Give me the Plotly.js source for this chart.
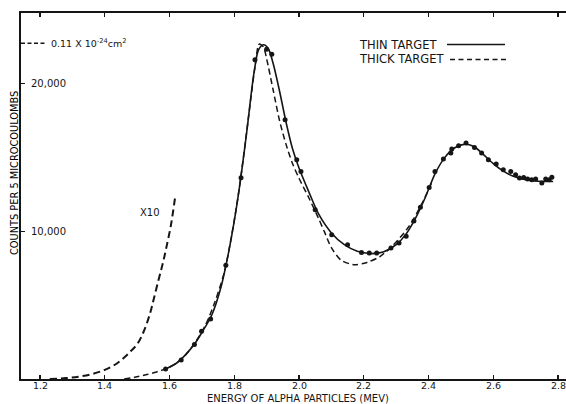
<!DOCTYPE html>
<html>
<head>
<meta charset="utf-8">
<script src="https://cdn.plot.ly/plotly-3.0.1.min.js"></script>
<style>
html,body{margin:0;padding:0;background:#fff;}
#chart{width:566px;height:404px;}
</style>
</head>
<body>
<div id="chart"></div>
<script>
// ---- Data ----
// Thin target measured points: energy (MeV), counts per 5 microcoulombs
var thinPointsE = [1.588,1.636,1.677,1.699,1.727,1.774,1.821,1.864,1.900,1.916,1.957,1.993,2.006,2.050,2.101,2.150,2.193,2.217,2.240,2.284,2.309,2.331,2.355,2.375,2.402,2.420,2.446,2.469,2.472,2.493,2.516,2.542,2.564,2.585,2.609,2.631,2.654,2.669,2.681,2.694,2.706,2.719,2.731,2.750,2.762,2.773,2.781];
var thinPointsC = [684,1290,2330,3230,4070,7700,13640,21625,22350,22010,17560,14850,14060,11470,9780,9100,8580,8535,8535,8875,9213,9665,10700,11640,12980,14060,14900,15308,15579,15802,15985,15688,15308,14855,14563,14177,14062,13839,13616,13656,13548,13500,13548,13277,13548,13500,13677];

// Thin target fitted curve (solid)
var thinCurveE = [1.588,1.62,1.65,1.68,1.70,1.73,1.76,1.78,1.80,1.82,1.84,1.86,1.875,1.89,1.905,1.92,1.94,1.96,1.98,2.00,2.03,2.06,2.10,2.14,2.18,2.22,2.26,2.30,2.33,2.36,2.39,2.42,2.45,2.48,2.51,2.54,2.57,2.60,2.63,2.66,2.70,2.74,2.785];
var thinCurveC = [684,1050,1650,2450,3150,4300,6300,8300,10700,13600,17000,20600,22300,22650,22400,21400,19500,17400,15600,14300,12700,11200,9900,9100,8650,8500,8600,9100,9800,10900,12300,13900,15000,15650,15900,15750,15200,14600,14100,13750,13500,13400,13380];

// Thick target curve (dashed)
var thickCurveE = [1.46,1.50,1.53,1.56,1.59,1.62,1.65,1.68,1.71,1.74,1.77,1.79,1.81,1.83,1.85,1.865,1.877,1.89,1.90,1.92,1.94,1.96,1.98,2.00,2.03,2.06,2.08,2.10,2.13,2.17,2.21,2.25,2.29,2.34,2.38,2.41];
var thickCurveC = [0,150,300,480,700,1050,1650,2500,3600,5200,7300,9500,12100,15300,18800,21300,22690,22500,21700,19600,17500,15900,14600,13600,12300,10900,9900,8900,8050,7745,7900,8300,9050,10350,11900,13300];

// Thick target low-energy tail, magnified x10 (dashed)
var x10CurveE = [1.23,1.28,1.32,1.36,1.40,1.43,1.46,1.48,1.50,1.52,1.54,1.55,1.565,1.58,1.591,1.605,1.617];
var x10CurveC = [0,60,160,330,620,950,1450,1880,2350,3200,4450,5300,6615,7900,8985,10500,12260];

// Axis ticks
var xTickVals = [1.2,1.4,1.6,1.8,2.0,2.2,2.4,2.6,2.8];
var xTickText = ['1.2','1.4','1.6','1.8','2.0','2.2','2.4','2.6','2.8'];
var yTickVals = [10000,20000];
var yTickText = ['10,000','20,000'];
var crossSectionLevel = [22750]; // 0.11 x 10^-24 cm^2 marker

// ---- Layout helpers (pixel -> paper) ----
var L = 21, R = 0, T = 13, B = 25, W = 566, H = 404;
var pw = W - L - R, ph = H - T - B;
function px(x){ return (x - L) / pw; }
function py(y){ return (H - B - y) / ph; }

var ink = '#151515';
var font = 'DejaVu Sans, Liberation Sans, sans-serif';

var traces = [
  {x: x10CurveE, y: x10CurveC, type:'scatter', mode:'lines', line:{color:ink, width:2, dash:'7px,4px', shape:'spline', smoothing:1}, hoverinfo:'skip'},
  {x: thickCurveE, y: thickCurveC, type:'scatter', mode:'lines', line:{color:ink, width:1.5, dash:'6px,3.5px', shape:'spline', smoothing:0.8}, hoverinfo:'skip'},
  {x: thinCurveE, y: thinCurveC, type:'scatter', mode:'lines', line:{color:ink, width:1.6, shape:'spline', smoothing:0.8}, hoverinfo:'skip'},
  {x: thinPointsE, y: thinPointsC, type:'scatter', mode:'markers', marker:{color:ink, size:5}, hoverinfo:'skip'}
];

var annotations = [
  {text:'COUNTS PER 5 MICROCOULOMBS', textangle:-90, xref:'paper', yref:'paper', x:px(14), y:py(173), xanchor:'center', yanchor:'middle', showarrow:false, font:{family:font, size:9.8, color:'#000'}},
  {text:'ENERGY OF ALPHA PARTICLES (MEV)', xref:'paper', yref:'paper', x:px(298), y:py(398), xanchor:'center', yanchor:'middle', showarrow:false, borderpad:0, font:{family:font, size:10, color:ink}},
  {text:'0.11 X 10<sup>-24</sup>cm<sup>2</sup>', xref:'paper', yref:'y', x:px(49), y:crossSectionLevel[0], xanchor:'left', yanchor:'middle', showarrow:false, font:{family:font, size:9.5, color:ink}},
  {text:'X10', xref:'paper', yref:'paper', x:px(150), y:py(212), xanchor:'center', yanchor:'middle', showarrow:false, font:{family:font, size:10, color:ink}},
  {text:'THIN TARGET', xref:'paper', yref:'paper', x:px(357), y:py(45), xanchor:'left', yanchor:'middle', showarrow:false, font:{family:font, size:11.5, color:ink}},
  {text:'THICK TARGET', xref:'paper', yref:'paper', x:px(357), y:py(59.5), xanchor:'left', yanchor:'middle', showarrow:false, font:{family:font, size:11.5, color:ink}}
];
// x tick labels
for (var i = 0; i < xTickVals.length; i++) {
  annotations.push({text:xTickText[i], xref:'x', yref:'paper', x:xTickVals[i], y:py(386), xanchor:'center', yanchor:'middle', showarrow:false, borderpad:0, font:{family:font, size:9.5, color:ink}});
}
// y tick labels (drawn inside the plot, right of the axis)
for (var j = 0; j < yTickVals.length; j++) {
  annotations.push({text:yTickText[j], xref:'paper', yref:'y', x:px(28.5), y:yTickVals[j], xanchor:'left', yanchor:'middle', showarrow:false, font:{family:font, size:10, color:ink}});
}

var layout = {
  width: W, height: H,
  margin: {l:L, r:R, t:T, b:B, pad:0},
  paper_bgcolor:'#ffffff', plot_bgcolor:'#ffffff',
  showlegend:false,
  font:{family:font, color:ink, size:10},
  xaxis:{
    range:[1.1413, 2.8247], tickmode:'array', tickvals:xTickVals, ticktext:xTickText,
    ticks:'inside', ticklen:4, tickwidth:1.3, tickcolor:ink,
    showticklabels:false,
    showline:true, linecolor:ink, linewidth:2, mirror:'ticks',
    showgrid:false, zeroline:false
  },
  yaxis:{
    range:[0, 24800], tickmode:'array', tickvals:yTickVals, ticktext:yTickText,
    ticks:'inside', ticklen:4, tickwidth:1.3, tickcolor:ink,
    showticklabels:false,
    showline:true, linecolor:ink, linewidth:2, mirror:false,
    showgrid:false, zeroline:false
  },
  annotations: annotations,
  shapes:[
    {type:'line', xref:'paper', yref:'y', x0:0, x1:px(47), y0:crossSectionLevel[0], y1:crossSectionLevel[0], line:{color:ink, width:1.3, dash:'4px,2.5px'}},
    {type:'line', xref:'paper', yref:'paper', x0:px(447), x1:px(505), y0:py(44.5), y1:py(44.5), line:{color:ink, width:1.3}},
    {type:'line', xref:'paper', yref:'paper', x0:px(450), x1:px(509), y0:py(59.5), y1:py(59.5), line:{color:ink, width:1.3, dash:'5px,3.5px'}}
  ]
};

Plotly.newPlot('chart', traces, layout, {staticPlot:true, displayModeBar:false});
</script>
</body>
</html>
